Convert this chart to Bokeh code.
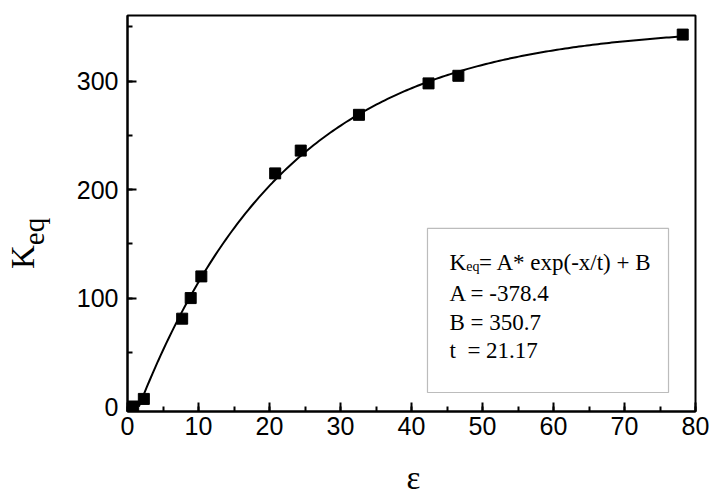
import numpy as np
from bokeh.plotting import figure
from bokeh.layouts import row, column
from bokeh.models import Label, BoxAnnotation, SingleIntervalTicker, Div
from bokeh.embed import file_html
from bokeh.resources import INLINE

# data
eps = [0.8, 2.3, 7.7, 8.9, 10.4, 20.8, 24.4, 32.6, 42.4, 46.6, 78.2]
keq = [0.0, 7.0, 81.0, 100.0, 120.0, 215.0, 236.0, 269.0, 298.0, 305.0, 343.0]

# fit parameters printed on the chart
A = -378.4
B = 350.7
T = 21.17
fit_lines = ["A = -378.4", "B = 350.7", "t\u00a0 = 21.17"]

serif = "Liberation Serif"

# ---- y title K_eq (rotated HTML text) ----
ytitle_html = (
    '<div style="transform-origin:0 0; transform:translate(7px,269px) rotate(-90deg);'
    " white-space:nowrap; font-family:'Liberation Serif'; font-size:33px;"
    ' line-height:1; color:black; margin:0; padding:0;">K<span style="font-size:29px;'
    ' position:relative; top:10px;">eq</span></div>'
)
left = Div(text=ytitle_html, width=50, height=498, margin=0)

# ---- x title epsilon ----
xtitle_html = (
    '<div style="width:659px; text-align:center; transform:translate(34px,-1px);'
    " white-space:nowrap; font-family:'Liberation Serif'; font-size:33px;"
    ' line-height:1; color:black; margin:0; padding:0;">ε</div>'
)
bottom = Div(text=xtitle_html, width=659, height=35, margin=0)

# ---- main plot ----
p = figure(width=659, height=463, x_range=(0, 80), y_range=(-4.6, 360.6),
           min_border_left=77, min_border_right=14, min_border_top=15,
           min_border_bottom=52, toolbar_location=None, output_backend="svg",
           background_fill_color="white", border_fill_color="white", margin=0)

p.xgrid.visible = False
p.ygrid.visible = False
p.outline_line_color = "black"
p.outline_line_width = 2
p.outline_line_alpha = 1.0

p.xaxis.ticker = SingleIntervalTicker(interval=10, num_minor_ticks=2)
p.yaxis.ticker = SingleIntervalTicker(interval=100, num_minor_ticks=2)
for ax in (p.xaxis, p.yaxis):
    ax.axis_line_width = 2
    ax.axis_line_color = "black"
    ax.major_tick_in = 9
    ax.major_tick_out = 0
    ax.minor_tick_in = 5
    ax.minor_tick_out = 0
    ax.major_tick_line_width = 2
    ax.minor_tick_line_width = 2
    ax.major_tick_line_color = "black"
    ax.minor_tick_line_color = "black"
    ax.major_label_text_font = "Liberation Sans"
    ax.major_label_text_font_size = "25px"
    ax.major_label_text_color = "black"
p.xaxis.major_label_standoff = 5
p.yaxis.major_label_standoff = 9

# fit curve from the printed equation
xf = np.linspace(1.6, 78.2, 200)
yf = A * np.exp(-xf / T) + B
p.line(xf, yf, line_color="black", line_width=2)

p.scatter(eps, keq, marker="square", size=11, fill_color="black", line_color="black")

# equation box
box = BoxAnnotation(left=42.25, right=76.2, bottom=12.9, top=164.2,
                    fill_color="white", fill_alpha=1.0,
                    line_color="#222222", line_width=1.2)
p.add_layout(box)

yb = 132.8
p.add_layout(Label(x=45.35, y=yb, text="K", text_font=serif, text_font_size="23px",
                   text_color="black", text_align="left", text_baseline="alphabetic"))
p.add_layout(Label(x=47.7, y=yb - 3.6, text="eq", text_font=serif, text_font_size="14px",
                   text_color="black", text_align="left", text_baseline="alphabetic"))
p.add_layout(Label(x=49.5, y=yb, text="= A* exp(-x/t) + B", text_font=serif,
                   text_color="black", text_font_size="23px", text_align="left",
                   text_baseline="alphabetic"))
for i, s in enumerate(fit_lines):
    p.add_layout(Label(x=45.35, y=yb - 28.5 - i * 26.5, text=s, text_font=serif,
                       text_color="black", text_font_size="23px", text_align="left",
                       text_baseline="alphabetic"))

layout = row(left, column(p, bottom, spacing=0, margin=0), spacing=0, margin=0)
open("out.html", "w").write(file_html(layout, INLINE))
